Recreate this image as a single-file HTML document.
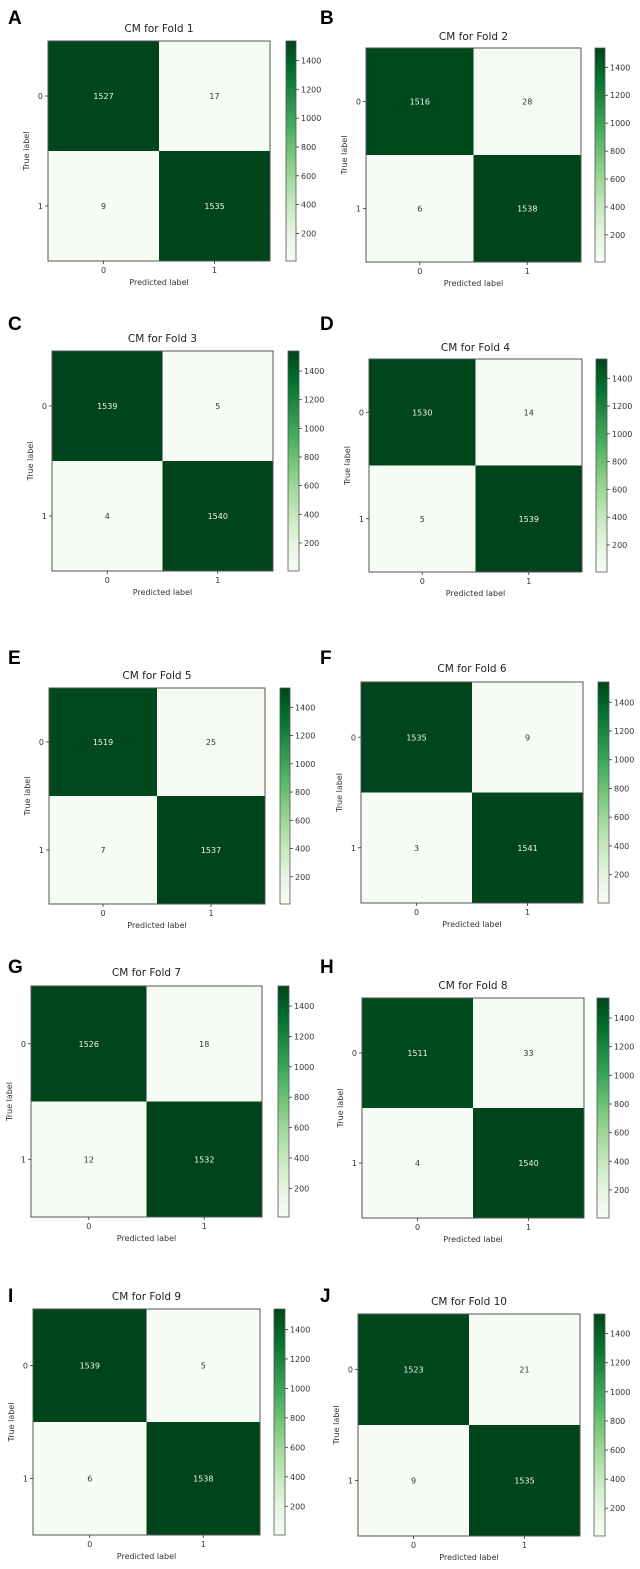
<!DOCTYPE html>
<html><head><meta charset="utf-8"><style>
html,body{margin:0;padding:0;background:#fff;}
svg{display:block;font-family:"DejaVu Sans","Liberation Sans",sans-serif;}
.lt{font-family:"Liberation Sans",sans-serif;}
</style></head><body>
<svg id="fig" width="640" height="1569" viewBox="0 0 640 1569" xmlns="http://www.w3.org/2000/svg">
<defs>
<linearGradient id="greens" x1="0" y1="1" x2="0" y2="0">
<stop offset="0" stop-color="#f7fcf5"/><stop offset="0.125" stop-color="#e5f5e0"/><stop offset="0.25" stop-color="#c7e9c0"/><stop offset="0.375" stop-color="#a1d99b"/><stop offset="0.5" stop-color="#74c476"/><stop offset="0.625" stop-color="#41ab5d"/><stop offset="0.75" stop-color="#238b45"/><stop offset="0.875" stop-color="#006d2c"/><stop offset="1" stop-color="#00441b"/>
</linearGradient>
</defs>
</svg>
<script>
const foldNames = ["1","2","3","4","5","6","7","8","9","10"];
const panelLetters = ["A","B","C","D","E","F","G","H","I","J"];
const tn = [1527,1516,1539,1530,1519,1535,1526,1511,1539,1523];
const fp = [17,28,5,14,25,9,18,33,5,21];
const fn = [9,6,4,5,7,3,12,4,6,9];
const tp = [1535,1538,1540,1539,1537,1541,1532,1540,1538,1535];
const classLabels = ["0","1"];
const cbTicks = [200,400,600,800,1000,1200,1400];

// layout: [boxL, boxR, boxT, boxB, cbL, cbR, titleY, letterX, letterY]
const layout = [
 [48,270,41,261,286,296,32,8,24],
 [366,581,48,262,595,605,40,320,24],
 [52,273,351,571,288,299,342,8,330],
 [369,582,359,572,596,607,351,320,330],
 [49,265,688,904,280,290,679,8,664],
 [361,583,682,903,598,609,672,320,664],
 [31,262,986,1217,278,289,976,8,973],
 [362,584,998,1218,597,609,989,320,973],
 [33,260,1309,1535,274,285,1300,8,1302],
 [358,580,1314,1536,594,605,1305,320,1302]
];
const stops=[[247,252,245],[229,245,224],[199,233,192],[161,217,155],[116,196,118],[65,171,93],[35,139,69],[0,109,44],[0,68,27]];
function greens(t){t=Math.max(0,Math.min(1,t));const p=t*8;const i=Math.min(7,Math.floor(p));const f=p-i;const a=stops[i],b=stops[i+1];return `rgb(${a.map((v,k)=>Math.round(v+(b[k]-v)*f)).join(',')})`;}
const NS="http://www.w3.org/2000/svg";
const svg=document.getElementById('fig');
function mk(tag,attrs,parent,text){const e=document.createElementNS(NS,tag);for(const k in attrs)e.setAttribute(k,attrs[k]);if(text!==undefined)e.textContent=text;parent.appendChild(e);return e;}
for(let p=0;p<10;p++){
 const [L,R,T,B,cL,cR,tY,lX,lY]=layout[p];
 const g=mk('g',{},svg);
 
 
 const m=[[tn[p],fp[p]],[fn[p],tp[p]]];
 const vals=[tn[p],fp[p],fn[p],tp[p]];
 const vmin=Math.min(...vals),vmax=Math.max(...vals);
 const xs=c=>L+(R-L)*c/2, ys=r=>T+(B-T)*r/2;
 const lt=mk('text',{x:lX,y:lY,'font-size':19,'font-weight':'bold',fill:'#000','class':'lt'},g,panelLetters[p]);
 
 
 const tt=mk('text',{x:(L+R)/2,y:tY,'font-size':10.5,'text-anchor':'middle',fill:'#222'},g,'CM for Fold '+foldNames[p]);
 
 
 for(let r=0;r<2;r++)for(let c=0;c<2;c++){
  const v=m[r][c];const t=(v-vmin)/(vmax-vmin);
  const cell=mk('rect',{x:xs(c),y:ys(r),width:xs(c+1)-xs(c),height:ys(r+1)-ys(r),fill:greens(t)},g);
  
  
  const ct=mk('text',{x:(xs(c)+xs(c+1))/2,y:(ys(r)+ys(r+1))/2+3,'font-size':8,'text-anchor':'middle',fill:t>0.5?'#f0f5ee':'#333'},g,String(v));
  
  
 }
 mk('rect',{x:L,y:T,width:R-L,height:B-T,fill:'none',stroke:'#555','stroke-width':1},g);
 for(let i=0;i<2;i++){
  const yc=(ys(i)+ys(i+1))/2, xc=(xs(i)+xs(i+1))/2;
  mk('line',{x1:L-3,x2:L,y1:yc,y2:yc,stroke:'#333','stroke-width':0.8},g);
  const yl=mk('text',{x:L-5,y:yc+3,'font-size':8,'text-anchor':'end',fill:'#333'},g,classLabels[i]);
  
  
  mk('line',{x1:xc,x2:xc,y1:B,y2:B+3,stroke:'#333','stroke-width':0.8},g);
  const xl=mk('text',{x:xc,y:B+12,'font-size':8,'text-anchor':'middle',fill:'#333'},g,classLabels[i]);
  
  
 }
 const xa=mk('text',{x:(L+R)/2,y:B+24,'font-size':8,'text-anchor':'middle',fill:'#333'},g,'Predicted label');
 
 
 const ya=mk('text',{x:0,y:0,'font-size':8,'text-anchor':'middle',fill:'#333',transform:`translate(${L-19},${(T+B)/2}) rotate(-90)`},g,'True label');
 
 
 const cb=mk('rect',{x:cL,y:T,width:cR-cL,height:B-T,fill:'url(#greens)',stroke:'#555','stroke-width':0.8},g);
 
 
 const cy=v=>B-(v-vmin)/(vmax-vmin)*(B-T);
 cbTicks.forEach(v=>{
  const y=cy(v);
  mk('line',{x1:cR,x2:cR+3,y1:y,y2:y,stroke:'#333','stroke-width':0.8},g);
  const tl=mk('text',{x:cR+5,y:y+3,'font-size':8,fill:'#333'},g,String(v));
  
  
 });
}
</script>
</body></html>
